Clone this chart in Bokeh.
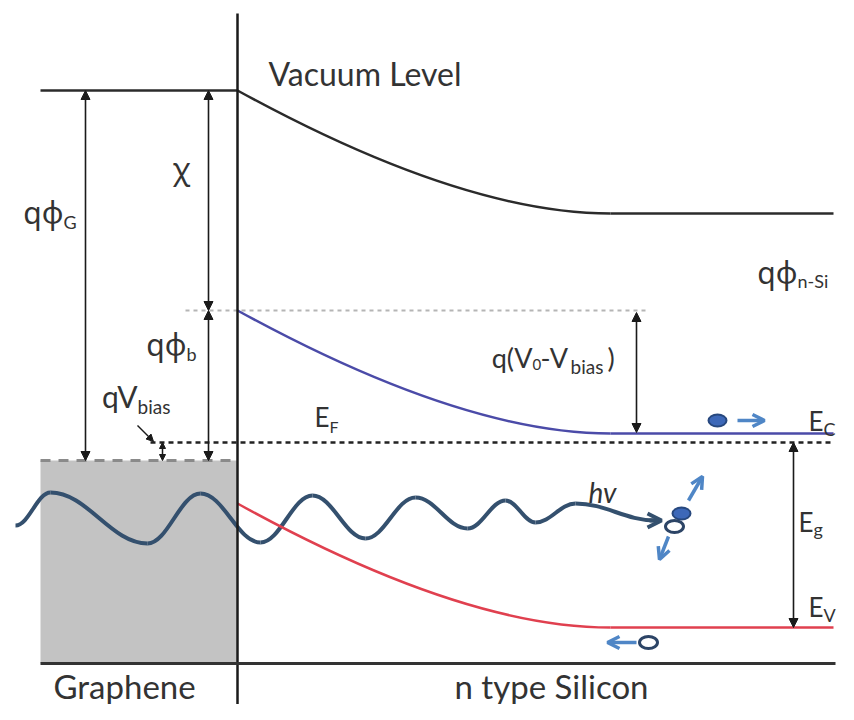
from bokeh.plotting import figure
from bokeh.models import Range1d, Arrow, NormalHead, OpenHead
from bokeh.core.properties import value
from bokeh.embed import file_html
from bokeh.resources import INLINE

# ---------------- band diagram values (diagram units, y grows downward) ----------------
x_graphene_left = 40
x_interface = 237
x_depletion_end = 610
x_right = 833
x_bend_ctrl = 461            # where the bending curve's tangents meet

vacuum_level = [90, 213]       # [at interface, in bulk]
conduction_band = [310, 433]
valence_band = [503, 627]
fermi_level_si = 442
fermi_level_graphene = 460
floor_level = 663

# photon wave (extrema of the wave)
wave_x = [15, 50, 147, 200, 260, 312, 365, 415, 467, 505, 535, 575, 655]
wave_y = [525, 492, 543, 493, 542, 495, 538, 497, 528, 500, 522, 503, 520]

# double-headed black arrows: x, y_top, y_bottom
dim_x = [85, 208, 208, 636, 793]
dim_top = [90, 90, 310, 312, 442]
dim_bottom = [460, 310, 460, 432, 627]

# carriers: (x, y, filled)
carrier_x = [717, 681, 674, 648]
carrier_y = [420, 513, 526, 642]
carrier_filled = [True, True, False, False]

# carrier motion arrows
move_x0 = [737, 688, 668, 636]
move_y0 = [420, 500, 536, 642]
move_x1 = [764, 702, 659, 607]
move_y1 = [420, 476, 559, 642]

# labels: text, x, y, size, align, style
label_text = ["Vacuum Level", "χ", "qφ", "G", "qφ", "b", "qV", "bias", "E", "F",
              "q(V", "0", "-V", "bias", ")", "E", "C", "E", "g", "E", "V",
              "qφ", "n-Si", "hv", "Graphene", "n type Silicon"]
label_x = [268, 181, 63, 63, 186, 186, 137, 137, 329, 329,
           532, 532, 540, 570, 607, 823, 823, 813, 813, 823, 823,
           797, 797, 588, 53, 551]
label_y = [73, 168, 212, 221, 344, 353, 395, 406, 416, 426,
           357, 364, 357, 366, 357, 420, 428, 521, 528, 606, 614,
           272, 280, 491, 685, 685]
label_size = [32, 30, 30, 18, 30, 18, 30, 19, 26, 16,
              27, 15, 27, 19, 27, 26, 18, 26, 18, 26, 18,
              30, 18, 28, 33, 33]
label_align = ["left", "center", "right", "left", "right", "left", "right", "left", "right", "left",
               "right", "left", "left", "left", "left", "right", "left", "right", "left", "right", "left",
               "right", "left", "left", "left", "center"]
label_style = ["normal"] * 23 + ["italic", "normal", "normal"]

# ---------------- figure ----------------
p = figure(width=838, height=704, x_range=Range1d(0, 838), y_range=Range1d(704, 0),
           output_backend="svg", toolbar_location=None, min_border=0)
p.axis.visible = False
p.grid.visible = False
p.outline_line_color = None
p.background_fill_color = "white"
p.border_fill_color = "white"

# graphene block
p.quad(left=[x_graphene_left], right=[x_interface], top=[fermi_level_graphene], bottom=[floor_level],
       fill_color="#c3c3c3", line_color=None)
p.segment(x0=[x_graphene_left], y0=[fermi_level_graphene], x1=[x_interface], y1=[fermi_level_graphene],
          line_color="#8a8a8a", line_width=3, line_dash="10 8")

# reference lines
p.segment(x0=[185], y0=[conduction_band[0]], x1=[647], y1=[conduction_band[0]],
          line_color="#b5b5b5", line_width=2, line_dash="4 4")
p.segment(x0=[150], y0=[fermi_level_si], x1=[x_right], y1=[fermi_level_si],
          line_color="#222222", line_width=2.5, line_dash="5 4")

# photon wave
bx0, by0, bx1, by1, c0x, c0y, c1x, c1y = [], [], [], [], [], [], [], []
for i in range(len(wave_x) - 1):
    xa, ya, xb, yb = wave_x[i], wave_y[i], wave_x[i + 1], wave_y[i + 1]
    d = xb - xa
    bx0.append(xa); by0.append(ya); bx1.append(xb); by1.append(yb)
    c0x.append(xa + 0.38 * d); c0y.append(ya)
    c1x.append(xb - 0.38 * d); c1y.append(yb)
p.bezier(x0=bx0, y0=by0, x1=bx1, y1=by1, cx0=c0x, cy0=c0y, cx1=c1x, cy1=c1y,
         line_color="#34506e", line_width=4)
p.add_layout(Arrow(end=OpenHead(size=14, line_color="#34506e", line_width=4),
                   x_start=wave_x[-1] - 6, y_start=wave_y[-1], x_end=wave_x[-1] + 6, y_end=wave_y[-1],
                   line_color="#34506e", line_width=4))

# bands
band_colors = ["#2b2b2b", "#4b4ba8", "#e0404f"]
for band, col in zip([vacuum_level, conduction_band, valence_band], band_colors):
    p.quadratic(x0=[x_interface], y0=[band[0]], x1=[x_depletion_end], y1=[band[1]],
                cx=[x_bend_ctrl], cy=[band[1]], line_color=col, line_width=2.5)
    p.segment(x0=[x_depletion_end], y0=[band[1]], x1=[x_right], y1=[band[1]],
              line_color=col, line_width=2.5)
p.segment(x0=[x_graphene_left], y0=[vacuum_level[0]], x1=[x_interface], y1=[vacuum_level[0]],
          line_color="#2b2b2b", line_width=2.5)

# interface and floor
p.segment(x0=[x_interface], y0=[13], x1=[x_interface], y1=[720], line_color="#1a1a1a", line_width=2.5)
p.segment(x0=[x_graphene_left], y0=[floor_level], x1=[835], y1=[floor_level],
          line_color="#333333", line_width=3)

# dimension arrows
for x, yt, yb in zip(dim_x, dim_top, dim_bottom):
    p.add_layout(Arrow(start=NormalHead(size=9, fill_color="#1a1a1a", line_color="#1a1a1a"),
                       end=NormalHead(size=9, fill_color="#1a1a1a", line_color="#1a1a1a"),
                       x_start=x, y_start=yt, x_end=x, y_end=yb,
                       line_color="#1a1a1a", line_width=1.6))
# qVbias small markers
p.add_layout(Arrow(start=NormalHead(size=6, fill_color="#1a1a1a", line_color="#1a1a1a"),
                   end=NormalHead(size=6, fill_color="#1a1a1a", line_color="#1a1a1a"),
                   x_start=162, y_start=fermi_level_si, x_end=162, y_end=fermi_level_graphene,
                   line_color="#1a1a1a", line_width=1.5))
p.add_layout(Arrow(end=NormalHead(size=7, fill_color="#1a1a1a", line_color="#1a1a1a"),
                   x_start=137, y_start=425, x_end=153, y_end=441,
                   line_color="#1a1a1a", line_width=1.5))

# carriers and their motion
for x0, y0, x1, y1 in zip(move_x0, move_y0, move_x1, move_y1):
    p.add_layout(Arrow(end=OpenHead(size=12, line_color="#4f86c6", line_width=3.5),
                       x_start=x0, y_start=y0, x_end=x1, y_end=y1,
                       line_color="#4f86c6", line_width=3.5))
for x, y, filled in zip(carrier_x, carrier_y, carrier_filled):
    p.ellipse(x=[x], y=[y], width=18, height=12,
              fill_color="#3d68b8" if filled else "white",
              line_color="#27487e" if filled else "#2c4466", line_width=2 if filled else 3)

# labels
for t, x, y, s, a, st in zip(label_text, label_x, label_y, label_size, label_align, label_style):
    font = "Noto Sans" if ("φ" in t or "χ" in t) else "Lato"
    p.text(x=[x], y=[y], text=[t], text_font=value(font), text_font_size=value(f"{s}px"),
           text_align=a, text_baseline="alphabetic", text_font_style=st, text_color="#333333")

open("out.html", "w").write(file_html(p, INLINE))
